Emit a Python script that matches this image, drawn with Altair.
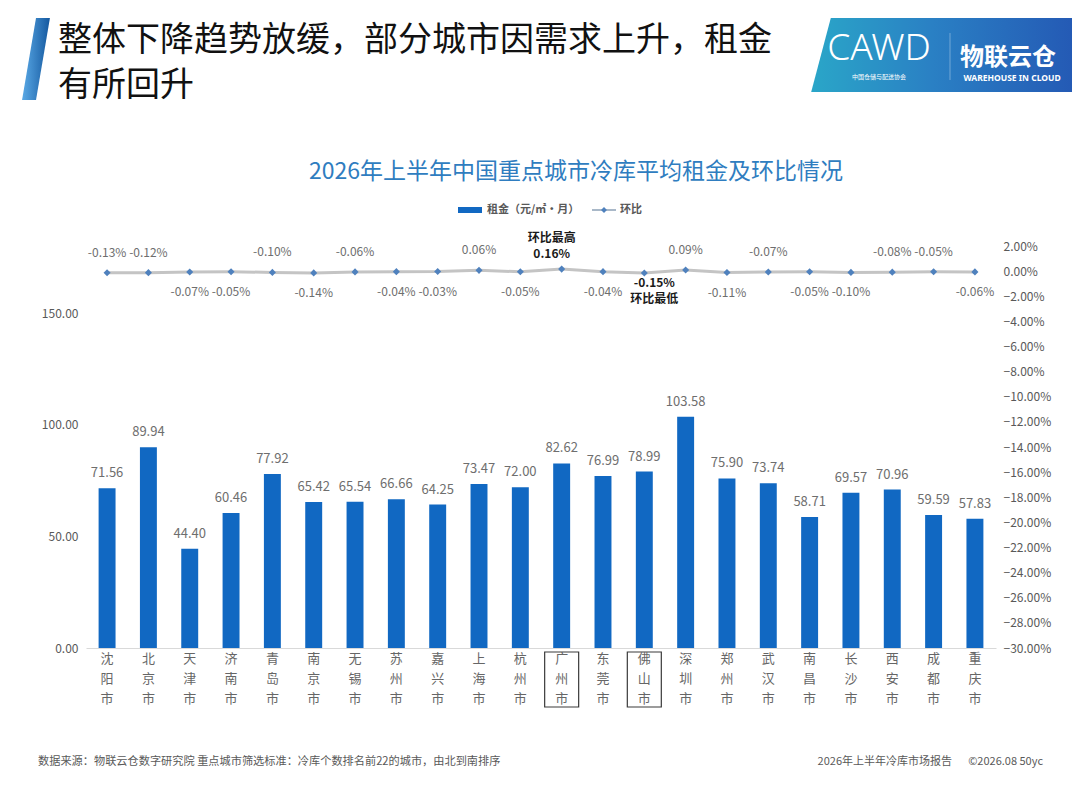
import altair as alt
import pandas as pd

FONT = "Noto Sans CJK SC"

cities = ["沈阳市", "北京市", "天津市", "济南市", "青岛市", "南京市", "无锡市", "苏州市",
          "嘉兴市", "上海市", "杭州市", "广州市", "东莞市", "佛山市", "深圳市", "郑州市",
          "武汉市", "南昌市", "长沙市", "西安市", "成都市", "重庆市"]
rent = [71.56, 89.94, 44.40, 60.46, 77.92, 65.42, 65.54, 66.66, 64.25, 73.47, 72.00,
        82.62, 76.99, 78.99, 103.58, 75.90, 73.74, 58.71, 69.57, 70.96, 59.59, 57.83]
mom = [-0.13, -0.12, -0.07, -0.05, -0.10, -0.14, -0.06, -0.04, -0.03, 0.06, -0.05,
       0.16, -0.04, -0.15, 0.09, -0.11, -0.07, -0.05, -0.10, -0.08, -0.05, -0.06]
# label placement of each MoM label relative to its point
label_side = ["上", "上", "下", "下", "上", "下", "上", "下", "下", "上", "下",
              "上", "下", "下", "上", "下", "上", "下", "下", "上", "上", "下"]
peak_city, peak_note = "广州市", "环比最高"
low_city, low_note = "佛山市", "环比最低"
boxed_cities = ["广州市", "佛山市"]

main_title = ["整体下降趋势放缓，部分城市因需求上升，租金", "有所回升"]
chart_title = "2026年上半年中国重点城市冷库平均租金及环比情况"
legend_bar = "租金（元/㎡·月）"
legend_line = "环比"
footer_left = "数据来源：物联云仓数字研究院 重点城市筛选标准：冷库个数排名前22的城市，由北到南排序"
footer_report = "2026年上半年冷库市场报告"
footer_copy = "©2026.08 50yc"

df = pd.DataFrame({"city": cities, "rent": rent, "mom": mom, "side": label_side})
df["rent_label"] = df["rent"].map(lambda v: f"{v:.2f}")
df["mom_label"] = df["mom"].map(lambda v: f"{v:.2f}%")
df["peak_text"] = peak_note + "\n" + df["mom_label"]
df["low_text"] = df["mom_label"] + "\n" + low_note

BAR = "#1168c2"
GRAY = "#595959"
LGRAY = "#6e6e6e"

X = alt.X("city:N", sort=cities,
          scale=alt.Scale(paddingInner=0.59, paddingOuter=0.305),
          axis=alt.Axis(title=None, labelExpr="split(datum.label, '')", labelAngle=0,
                        labelFont=FONT, labelFontSize=13, labelColor="#666666",
                        labelLineHeight=20, labelPadding=4, labelBaseline="top",
                        labelAlign="center", ticks=False, domainColor="#d9d9d9",
                        domainWidth=1.2))

Y_L = alt.Y("rent:Q", scale=alt.Scale(domain=[0, 180], nice=False, zero=True),
            axis=alt.Axis(title=None, values=[0, 50, 100, 150], format=".2f",
                          orient="left", grid=False, domain=False, ticks=False,
                          labelColor=GRAY, labelFontSize=12, labelFont=FONT,
                          labelPadding=8))
Y_R = alt.Y("mom:Q", scale=alt.Scale(domain=[-30, 2], nice=False, zero=False),
            axis=alt.Axis(title=None, values=list(range(-30, 3, 2)),
                          labelExpr="format(datum.value, '.2f') + '%'",
                          orient="right", grid=False, domain=False, ticks=False,
                          labelColor=GRAY, labelFontSize=12, labelFont=FONT,
                          labelPadding=7))

base = alt.Chart(df)

bars = base.mark_bar(color=BAR).encode(x=X, y=Y_L)
bar_text = base.mark_text(baseline="bottom", dy=-8, fontSize=13, color=LGRAY,
                          font=FONT).encode(x=X, y=Y_L, text="rent_label:N")
bar_layer = alt.layer(bars, bar_text)

line = base.mark_line(color="#c4c4c4", strokeWidth=3).encode(x=X, y=Y_R)
pts = base.mark_point(shape="diamond", filled=True, size=50, color="#4f81bd",
                      opacity=1).encode(x=X, y=Y_R)
normal = (alt.datum.city != peak_city) & (alt.datum.city != low_city)
lab_up = base.transform_filter(normal & (alt.datum.side == "上")).mark_text(
    baseline="bottom", dy=-13, fontSize=12, color=LGRAY, font=FONT
).encode(x=X, y=Y_R, text="mom_label:N")
lab_dn = base.transform_filter(normal & (alt.datum.side == "下")).mark_text(
    baseline="top", dy=15, fontSize=12, color=LGRAY, font=FONT
).encode(x=X, y=Y_R, text="mom_label:N")
lab_peak = base.transform_filter(alt.datum.city == peak_city).mark_text(
    baseline="bottom", dy=-24, dx=-10, fontSize=12, color="#1a1a1a",
    fontWeight="bold", font=FONT, lineBreak="\n", lineHeight=16
).encode(x=X, y=Y_R, text="peak_text:N")
lab_low = base.transform_filter(alt.datum.city == low_city).mark_text(
    baseline="top", dy=5, dx=10, fontSize=12, color="#1a1a1a", fontWeight="bold",
    font=FONT, lineBreak="\n", lineHeight=16
).encode(x=X, y=Y_R, text="low_text:N")
line_layer = alt.layer(line, pts, lab_up, lab_dn, lab_peak, lab_low)

boxes = base.transform_filter(
    alt.FieldOneOfPredicate(field="city", oneOf=boxed_cities)
).mark_bar(size=34, fillOpacity=0, stroke="#3a3a3a", strokeWidth=1.2).encode(
    x=X, y=alt.value(406), y2=alt.value(461))

one = pd.DataFrame({"k": [0]})
OX, OY = 86, 246  # page position of plot origin


def txt(text, x, y, size, color, weight="normal", align="left", font=FONT):
    return alt.Chart(one).mark_text(
        text=text, fontSize=size, color=color, fontWeight=weight, align=align,
        baseline="middle", font=font).encode(x=alt.value(x - OX), y=alt.value(y - OY))


def shape(path, cx, cy, side, fill):
    return alt.Chart(one).mark_point(
        shape=path, filled=True, size=side * side, fill=fill, opacity=1,
        strokeWidth=0).encode(x=alt.value(cx - OX), y=alt.value(cy - OY))


stripe = shape("M0.0,-1 L0.34,-1 L0.0,1 L-0.34,1 Z", 36, 59, 82,
               alt.Gradient(gradient="linear",
                            stops=[alt.GradientStop(color="#5aa9e6", offset=0),
                                   alt.GradientStop(color="#14589f", offset=1)],
                            x1=0, x2=1, y1=0, y2=0))
panel = shape("M-0.78,-0.264 L1,-0.264 L1,0.264 L-0.92,0.264 Z", 940, 55, 280,
              alt.Gradient(gradient="linear",
                           stops=[alt.GradientStop(color="#2aa6c8", offset=0),
                                  alt.GradientStop(color="#2a80c4", offset=0.45),
                                  alt.GradientStop(color="#2458b4", offset=1)],
                           x1=0, x2=1, y1=0, y2=0))
gap = shape("M-0.83,-0.264 L-0.815,-0.264 L-0.955,0.264 L-0.97,0.264 Z", 940, 55, 280,
            "white")
divider = alt.Chart(one).mark_rule(color="white", opacity=0.35).encode(
    x=alt.value(950 - OX), y=alt.value(33 - OY), y2=alt.value(80 - OY))

header = [
    stripe, panel, gap, divider,
    txt(main_title[0], 58, 41, 34, "#111111"),
    txt(main_title[1], 58, 86, 34, "#111111"),
    txt("CAWD", 879, 49, 37, "white", weight=300, align="center", font="Noto Sans"),
    txt("中国仓储与配送协会", 879, 77, 6, "white", align="center"),
    txt("物联云仓", 1008, 58, 24, "white", weight="bold", align="center"),
    txt("WAREHOUSE IN CLOUD", 1012, 78, 8.5, "white", weight="bold", align="center",
        font="Noto Sans"),
    txt(chart_title, 576, 172, 23, "#2f7dc0", align="center"),
    alt.Chart(one).mark_rect(color=BAR).encode(
        x=alt.value(458 - OX), x2=alt.value(482 - OX),
        y=alt.value(207 - OY), y2=alt.value(213 - OY)),
    txt(legend_bar, 487, 210, 11, GRAY, weight="bold"),
    alt.Chart(one).mark_rule(color="#a9b8c8", strokeWidth=2).encode(
        x=alt.value(592 - OX), x2=alt.value(616 - OX), y=alt.value(210 - OY)),
    alt.Chart(one).mark_point(shape="diamond", filled=True, size=35, color="#4f81bd",
                              opacity=1).encode(x=alt.value(604 - OX),
                                                y=alt.value(210 - OY)),
    txt(legend_line, 620, 210, 11, GRAY, weight="bold"),
    txt(footer_left, 38, 762, 11.2, GRAY),
    txt(footer_report, 952, 762, 11, GRAY, align="right"),
    txt(footer_copy, 1043, 762, 11, GRAY, align="right"),
]

chart = alt.layer(*header, bar_layer, line_layer, boxes).resolve_scale(
    y="independent"
).properties(
    width=910, height=402,
    padding={"left": 78, "top": 238, "right": 76, "bottom": 128},
    autosize=alt.AutoSizeParams(type="none"),
    background="white",
).configure_view(strokeWidth=0)

chart.save("out.html", embed_options={"renderer": "svg", "actions": False})
